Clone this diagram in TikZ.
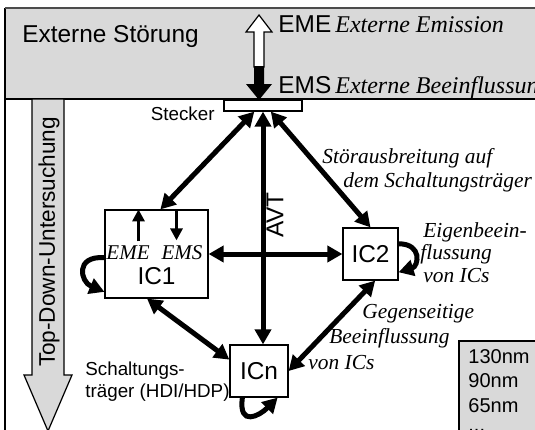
\documentclass[tikz,border=0pt]{standalone}
\usepackage{fontspec}
\setmainfont{Liberation Sans}
\newfontfamily\tms{Liberation Serif}
\usetikzlibrary{arrows.meta}
\newcommand\bigsf{\fontsize{12.2}{14}\selectfont}
\newcommand\smallsf{\fontsize{9.4}{11}\selectfont}
\newcommand\itlbl{\tms\itshape\fontsize{10.7}{12}\selectfont}
\begin{document}
\begin{tikzpicture}[x=0.5pt, y=-0.5pt, >={Triangle[length=7.5pt,width=8pt]}, line join=miter,
  icbox/.style={draw, line width=0.6pt, fill=white, inner sep=0pt},
  conn/.style={line width=2.5pt, <->},
  selfarr/.style={line width=2.5pt, ->},
  inarr/.style={line width=1.8pt, arrows={-Triangle[length=6pt,width=6pt]}},
  lbl/.style={font=\itlbl, anchor=base west, inner sep=0pt},
  txt/.style={anchor=base west, inner sep=0pt}]
\useasboundingbox (0,0) rectangle (535,429);
\clip (0,0) rectangle (535,429);
% frame and external band
\fill[gray!30] (5,8) rectangle (545,99);
\draw[line width=0.6pt] (5,99) -- (545,99);
\draw[line width=0.6pt] (5,8) -- (5,440);
\draw[line width=1pt, black!70] (5,8) -- (545,8);
\node[txt, font=\bigsf] (ext) at (22,42) {Externe Störung};
\node[txt, font=\bigsf] (eme) at (278,32) {EME\,{\tms\itshape\fontsize{12}{14}\selectfont Externe Emission}};
\node[txt, font=\bigsf] (ems) at (278,93) {EMS\,{\tms\itshape\fontsize{12}{14}\selectfont Externe Beeinflussung}};
% EME / EMS arrow
\draw[line width=0.6pt, fill=white] (259,15) -- (272,32) -- (264,32) -- (264,67) -- (254,67) -- (254,32) -- (246,32) -- cycle;
\fill (254,66) -- (264,66) -- (264,84) -- (272,84) -- (259,100) -- (246,84) -- (254,84) -- cycle;
% top-down arrow
\draw[line width=0.6pt, fill=gray!30] (32,99) -- (64,99) -- (64,375) -- (72,375) -- (48,431) -- (24,375) -- (32,375) -- cycle;
\node[rotate=90, font=\fontsize{11.3}{13}\selectfont] (td) at (49,242) {Top-Down-Untersuchung};
% connector and ICs
\node[icbox, minimum width=39pt, minimum height=5.5pt] (stk) at (263,105.5) {};
\node[anchor=base east, inner sep=0pt, font=\smallsf] at (215,120) {Stecker};
\node[icbox, minimum width=51.5pt, minimum height=44pt] (ic1) at (156.5,254) {};
\node[icbox, minimum width=27.5pt, minimum height=26pt, font=\bigsf] (ic2) at (370.5,254) {IC2};
\node[icbox, minimum width=29pt, minimum height=26pt, font=\bigsf] (icn) at (259,371) {ICn};
\node[font=\bigsf] at (156.5,276) {IC1};
\node[font=\tms\itshape\fontsize{10.5}{12}\selectfont, inner sep=0pt] (emei) at (128,253) {EME};
\node[font=\tms\itshape\fontsize{10.5}{12}\selectfont, inner sep=0pt] (emsi) at (182,253) {EMS};
\draw[inarr] ([xshift=-9pt]ic1.north) ++(0,32) -- ([xshift=-9pt]ic1.north);
\draw[inarr] ([xshift=10pt]ic1.north) -- ++(0,31);
% couplings
\draw[conn] (stk.-145) -- (ic1.85);
\draw[conn] (stk.-38) -- (ic2.north);
\draw[conn] (stk.south) -- (stk.south |- icn.north);
\draw[conn] (ic1.east) -- (ic2.west);
\draw[conn] (ic1.-102) -- (icn.159);
\draw[conn] (ic2.-80) -- (icn.east);
\node[rotate=90, font=\bigsf] (avt) at (275,215) {AVT};
% self coupling
\draw[selfarr] (ic1.184) .. controls +(-30,-2) and +(-24,-10) .. (ic1.216);
\draw[selfarr] (ic2.20) .. controls +(24,0) and +(20,-6) .. (ic2.-33);
\draw[selfarr] (icn.238) .. controls +(-4,30) and +(-18,18) .. (icn.-55);
% labels
\node[lbl] at (322,163) {Störausbreitung auf};
\node[lbl] at (343,187) {dem Schaltungsträger};
\node[lbl] at (423,237) {Eigenbeein-};
\node[lbl] at (420,259) {flussung};
\node[lbl] at (423,282) {von ICs};
\node[lbl] at (362,318) {Gegenseitige};
\node[lbl] at (329,343) {Beeinflussung};
\node[lbl] at (308,369) {von ICs};
\node[txt, font=\smallsf] at (85,375) {Schaltungs-};
\node[txt, font=\smallsf] at (85,397) {träger (HDI/HDP)};
% technology nodes
\draw[line width=0.6pt, fill=gray!30] (459,341) rectangle (545,445);
\node[txt, font=\fontsize{10}{12}\selectfont] at (468,363) {130nm};
\node[txt, font=\fontsize{10}{12}\selectfont] at (468,387) {90nm};
\node[txt, font=\fontsize{10}{12}\selectfont] at (468,412) {65nm};
\node[txt, font=\fontsize{10}{12}\selectfont] at (468,431) {...};
\end{tikzpicture}
\end{document}
